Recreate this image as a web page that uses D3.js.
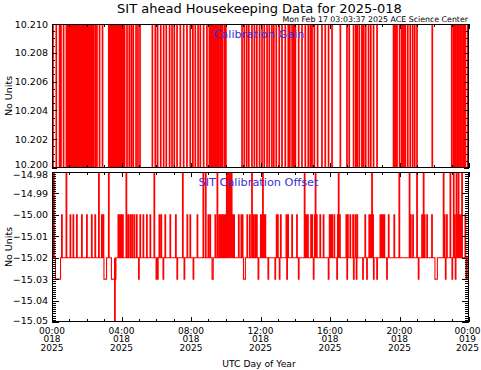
<!DOCTYPE html>
<html><head><meta charset="utf-8">
<script src="https://cdn.jsdelivr.net/npm/d3@7"></script>
<style>
html,body{margin:0;padding:0;background:#fff;}
text{font-family:"DejaVu Sans",sans-serif;}
</style></head>
<body><svg id="c" width="481" height="370"></svg>
<script>
// ---------------- DATA ----------------
const titleText = "SIT ahead Housekeeping Data for 2025-018";
const stampText = "Mon Feb 17 03:03:37 2025 ACE Science Center";
const gainLabel = "Calibration Gain";
const offsetLabel = "SIT Calibration Offset";
const yUnitLabel = "No Units";
const xAxisTitle = "UTC Day of Year";

const gainTicks = [10.200, 10.202, 10.204, 10.206, 10.208, 10.210];
const offsetTicks = [-15.05, -15.04, -15.03, -15.02, -15.01, -15.00, -14.99, -14.98];
const xTickHours = [0, 4, 8, 12, 16, 20, 24];
const xTickLabels = [["00:00","018","2025"],["04:00","018","2025"],["08:00","018","2025"],
  ["12:00","018","2025"],["16:00","018","2025"],["20:00","018","2025"],["00:00","019","2025"]];

// Calibration gain: baseline level, excursion level, and hours (UTC) of the excursions
const gainBase = 10.200;
const gainHigh = 10.212;
const gainSampleHours = 0.035;
const gainHours = [0.04,0.23,0.42,0.50,0.65,0.81,0.87,0.93,1.00,1.06,1.13,1.19,1.26,1.32,1.39,1.45,1.52,1.58,1.65,1.71,1.78,1.84,1.91,1.97,2.04,2.10,2.17,2.23,2.30,2.36,2.47,2.57,2.72,2.89,
3.25,3.31,3.38,3.44,3.51,3.57,3.63,3.70,3.76,3.83,3.89,3.96,4.02,4.09,4.16,4.30,4.43,4.55,4.66,4.82,4.93,5.05,5.76,5.93,6.06,6.24,6.41,6.56,6.75,6.89,7.02,7.18,7.37,7.56,7.75,7.94,
8.09,8.23,8.39,8.52,8.71,8.90,9.04,9.12,9.21,9.28,9.35,9.42,9.50,9.57,9.67,9.73,9.80,9.92,9.99,10.92,11.05,11.19,11.31,11.49,11.63,11.77,11.93,12.07,12.20,12.36,12.49,12.64,12.75,
12.89,13.06,13.22,13.41,13.58,13.67,13.80,13.90,13.99,14.18,14.37,14.56,14.73,14.85,14.95,15.08,15.27,15.52,15.71,15.90,16.10,16.58,16.96,17.09,17.34,17.47,17.55,17.67,17.82,17.92,
18.04,18.20,18.33,18.49,18.69,19.64,19.74,19.84,19.99,20.12,20.22,20.32,20.46,20.60,20.74,20.86,20.99,21.87,22.99,23.10,23.19,23.29,23.38,23.48,23.58,23.68,23.77,23.91];

// Calibration offset: baseline and excursions [hour, value, duration hours]
const offsetBase = -15.02;
const offsetEvents = [
[0.09,-14.98,0.04],[0.20,-15.03,0.29],[0.55,-15.00,0.04],[0.81,-14.98,0.04],[1.04,-15.00,0.04],[1.21,-15.00,0.04],
[1.41,-15.00,0.04],[1.70,-15.00,0.04],[1.99,-15.00,0.04],[2.27,-15.00,0.04],[2.47,-15.00,0.04],[2.68,-14.98,0.04],
[2.85,-15.00,0.04],[2.94,-15.00,0.04],[2.99,-15.03,0.15],[3.25,-14.98,0.04],[3.42,-15.03,0.18],[3.60,-15.05,0.04],
[3.64,-15.03,0.04],[3.80,-15.00,0.04],[3.88,-15.00,0.04],[3.97,-15.00,0.04],[4.06,-15.00,0.04],[4.26,-14.98,0.04],
[4.37,-15.00,0.04],[4.49,-15.00,0.04],[4.60,-15.00,0.04],[4.72,-15.00,0.04],[4.86,-15.00,0.04],[4.98,-15.03,0.04],
[5.06,-15.00,0.04],[5.24,-15.00,0.04],[5.44,-15.00,0.04],[5.64,-15.00,0.04],[5.87,-14.98,0.04],[5.99,-15.03,0.04],
[6.07,-15.03,0.04],[6.16,-15.00,0.04],[6.27,-15.00,0.04],[6.39,-15.03,0.04],[6.50,-15.00,0.04],[6.79,-15.00,0.04],
[7.11,-15.00,0.04],[7.19,-15.03,0.04],[7.51,-14.98,0.04],[7.60,-15.03,0.04],[7.77,-15.00,0.04],[7.94,-15.00,0.04],
[8.12,-15.03,0.04],[8.35,-15.00,0.04],[8.69,-14.98,0.04],[8.83,-14.98,0.04],[8.98,-15.00,0.04],[9.09,-15.00,0.04],
[9.21,-15.03,0.07],[9.38,-15.00,0.04],[9.50,-14.98,0.04],[9.61,-15.00,0.04],[9.70,-15.00,0.04],[9.78,-15.00,0.04],
[9.87,-15.00,0.04],[9.96,-15.00,0.04],[10.04,-14.98,0.04],[10.09,-14.98,0.04],[10.14,-14.98,0.04],[10.18,-14.98,0.04],
[10.23,-14.98,0.04],[10.27,-14.98,0.04],[10.32,-14.98,0.04],[10.39,-15.00,0.04],[10.46,-15.00,0.04],[10.73,-15.00,0.04],
[10.88,-15.00,0.04],[10.95,-15.00,0.04],[11.02,-15.03,0.11],[11.22,-15.00,0.04],[11.37,-15.00,0.04],[11.49,-14.98,0.04],
[11.57,-15.00,0.04],[11.68,-15.00,0.04],[11.77,-15.00,0.04],[11.86,-15.03,0.04],[12.00,-15.00,0.04],[12.07,-15.00,0.04],
[12.12,-14.98,0.04],[12.18,-15.00,0.04],[12.26,-15.00,0.04],[12.43,-15.03,0.04],[12.83,-15.03,0.04],[12.91,-15.00,0.04],
[12.98,-15.00,0.04],[13.08,-15.03,0.04],[13.15,-15.00,0.04],[13.47,-15.00,0.04],[13.51,-15.03,0.04],[13.57,-15.00,0.04],
[13.80,-15.00,0.04],[14.08,-15.00,0.04],[14.18,-15.03,0.04],[14.52,-14.98,0.04],[14.62,-15.00,0.04],[14.71,-15.00,0.04],
[14.89,-15.00,0.04],[14.96,-15.00,0.04],[15.04,-15.03,0.04],[15.11,-15.00,0.04],[15.15,-14.98,0.04],[15.22,-15.00,0.04],
[15.42,-15.00,0.04],[15.61,-15.00,0.04],[15.90,-15.03,0.04],[15.96,-15.00,0.04],[16.03,-15.00,0.04],[16.10,-15.00,0.04],
[16.23,-15.00,0.04],[16.39,-15.03,0.04],[16.43,-15.00,0.04],[16.48,-14.98,0.04],[16.55,-15.00,0.04],[16.92,-15.00,0.04],
[16.97,-15.03,0.04],[17.01,-15.00,0.04],[17.15,-15.00,0.04],[17.31,-15.00,0.04],[17.35,-15.03,0.04],[17.44,-15.00,0.04],
[17.51,-15.03,0.04],[17.55,-15.00,0.04],[17.88,-15.03,0.04],[18.01,-15.00,0.04],[18.11,-15.03,0.04],[18.24,-15.00,0.04],
[18.32,-15.00,0.04],[18.40,-14.98,0.04],[18.46,-15.00,0.04],[18.50,-15.03,0.04],[18.69,-15.03,0.04],[18.88,-15.00,0.04],
[18.95,-15.00,0.04],[19.03,-15.00,0.04],[19.11,-15.00,0.04],[19.26,-15.03,0.04],[19.36,-15.00,0.04],[19.68,-15.00,0.04],
[19.97,-14.98,0.04],[20.56,-14.98,0.04],[20.63,-15.00,0.04],[20.76,-15.00,0.04],[20.99,-14.98,0.04],[21.08,-15.03,0.04],
[21.28,-15.00,0.04],[21.37,-14.98,0.04],[21.43,-15.00,0.04],[21.57,-15.00,0.04],[21.85,-15.00,0.04],[22.04,-15.03,0.14],
[22.52,-14.98,0.04],[22.58,-15.00,0.04],[22.64,-15.03,0.04],[22.71,-15.00,0.04],[22.91,-14.98,0.04],[23.02,-15.03,0.04],
[23.10,-14.98,0.04],[23.15,-15.00,0.04],[23.21,-15.03,0.04],[23.26,-14.98,0.04],[23.31,-15.00,0.04],[23.38,-14.98,0.04],
[23.48,-15.00,0.04],[23.58,-14.98,0.04],[23.77,-15.00,0.04],[23.83,-15.03,0.04],[23.95,-15.03,0.05]];

// ---------------- DRAW ----------------
const svg = d3.select("#c");
const L = 52, R = 469;
const P1 = {top: 24, bottom: 168};
const P2 = {top: 172, bottom: 322};
const red = "#ff0000", blue = "#3a2fd6";

const x = d3.scaleLinear().domain([0, 24]).range([L, R]);
const yG = d3.scaleLinear().domain([10.200, 10.210]).range([P1.bottom, P1.top]);
const yO = d3.scaleLinear().domain([-15.05, -14.98]).range([P2.bottom, P2.top]);

svg.append("rect").attr("width",481).attr("height",370).attr("fill","#fff");

const defs = svg.append("defs");
defs.append("clipPath").attr("id","cp1").append("rect")
  .attr("x",L).attr("y",P1.top).attr("width",R-L).attr("height",P1.bottom-P1.top);
defs.append("clipPath").attr("id","cp2").append("rect")
  .attr("x",L).attr("y",P2.top).attr("width",R-L).attr("height",P2.bottom-P2.top);

// build step series
const gainSeries = [[0, gainBase]];
gainHours.forEach(h => { gainSeries.push([h, gainHigh]); gainSeries.push([h + gainSampleHours, gainBase]); });
gainSeries.push([24, gainBase]);

const offsetSeries = [[0, offsetBase]];
offsetEvents.forEach(([h, v, d]) => { offsetSeries.push([h, v]); offsetSeries.push([h + d, offsetBase]); });
offsetSeries.push([24, offsetBase]);

const lineG = d3.line().x(d => x(d[0])).y(d => yG(d[1])).curve(d3.curveStepAfter);
const lineO = d3.line().x(d => x(d[0])).y(d => yO(d[1])).curve(d3.curveStepAfter);

svg.append("path").attr("clip-path","url(#cp1)").attr("d", lineG(gainSeries))
  .attr("fill","none").attr("stroke",red).attr("stroke-width",1.1);
svg.append("path").attr("clip-path","url(#cp2)").attr("d", lineO(offsetSeries))
  .attr("fill","none").attr("stroke",red).attr("stroke-width",1.1);

// axes helpers
function frame(P){
  svg.append("rect").attr("x",L+0.5).attr("y",P.top+0.5)
    .attr("width",R-L-1).attr("height",P.bottom-P.top-1)
    .attr("fill","none").attr("stroke","#000").attr("stroke-width",1);
}
function yAxis(P, y, majors, minors, majLen, minLen){
  const g = svg.append("g").attr("stroke","#000").attr("stroke-width",1);
  majors.forEach(v => {
    const yy = Math.round(y(v)) + 0.5;
    g.append("line").attr("x1",L).attr("x2",L+majLen).attr("y1",yy).attr("y2",yy);
    g.append("line").attr("x1",R).attr("x2",R-majLen).attr("y1",yy).attr("y2",yy);
  });
  minors.forEach(v => {
    const yy = Math.round(y(v)) + 0.5;
    g.append("line").attr("x1",L).attr("x2",L+minLen).attr("y1",yy).attr("y2",yy);
    g.append("line").attr("x1",R).attr("x2",R-minLen).attr("y1",yy).attr("y2",yy);
  });
}
function xTicks(P){
  const g = svg.append("g").attr("stroke","#000").attr("stroke-width",1);
  d3.range(0, 25, 1).forEach(h => {
    const major = xTickHours.includes(h);
    const len = major ? 5 : 3;
    const xx = Math.round(x(h)) + 0.5;
    g.append("line").attr("x1",xx).attr("x2",xx).attr("y1",P.bottom).attr("y2",P.bottom-len);
    g.append("line").attr("x1",xx).attr("x2",xx).attr("y1",P.top).attr("y2",P.top+len);
  });
}

frame(P1); frame(P2);
yAxis(P1, yG, gainTicks, d3.range(0, 21).map(i => 10.200 + i*0.0005), 5, 3);
yAxis(P2, yO, offsetTicks, d3.range(0, 71).map(i => -15.05 + i*0.001), 7, 4);
xTicks(P1); xTicks(P2);

// tick labels (edge labels nudged inward as in the reference)
const fmtG = d3.format(".3f"), fmtO = d3.format(".2f");
const nudgeG = v => (v === 10.200 ? -3 : (v === 10.210 ? 1 : 0));
const nudgeO = v => (v === -14.98 ? 3 : (v === -15.05 ? -1.5 : 0));
svg.append("g").selectAll("text").data(gainTicks).join("text")
  .attr("x", L-4).attr("y", d => yG(d) + nudgeG(d)).attr("dy","0.36em")
  .attr("text-anchor","end").attr("font-size","9.5px").text(d => fmtG(d));
svg.append("g").selectAll("text").data(offsetTicks).join("text")
  .attr("x", L-4).attr("y", d => yO(d) + nudgeO(d)).attr("dy","0.36em")
  .attr("text-anchor","end").attr("font-size","9.5px").text(d => fmtO(d));

const xl = svg.append("g");
xTickHours.forEach((h, i) => {
  const cx = x(h) + (i === xTickHours.length - 1 ? -1.5 : 0);
  xTickLabels[i].forEach((s, j) => {
    xl.append("text").attr("x", cx).attr("y", 333.5 + j*8.7)
      .attr("text-anchor","middle").attr("font-size","9px").text(s);
  });
});

svg.append("text").attr("x", 259).attr("y", 367).attr("text-anchor","middle")
  .attr("font-size","9.2px").text(xAxisTitle);

[P1, P2].forEach(P => {
  const cy = (P.top + P.bottom)/2;
  svg.append("text").attr("transform",`translate(12,${cy}) rotate(-90)`)
    .attr("text-anchor","middle").attr("font-size","9.5px").text(yUnitLabel);
});

svg.append("text").attr("x", 259.5).attr("y", 12.5).attr("text-anchor","middle")
  .attr("font-size","13px").text(titleText);
svg.append("text").attr("x", 468).attr("y", 22).attr("text-anchor","end")
  .attr("font-size","7.85px").text(stampText);

svg.append("text").attr("x", 259).attr("y", 37.5).attr("text-anchor","middle")
  .attr("font-size","11.3px").attr("fill",blue).text(gainLabel);
svg.append("text").attr("x", 258.5).attr("y", 186).attr("text-anchor","middle")
  .attr("font-size","11.3px").attr("fill",blue).text(offsetLabel);
</script>
</body></html>
